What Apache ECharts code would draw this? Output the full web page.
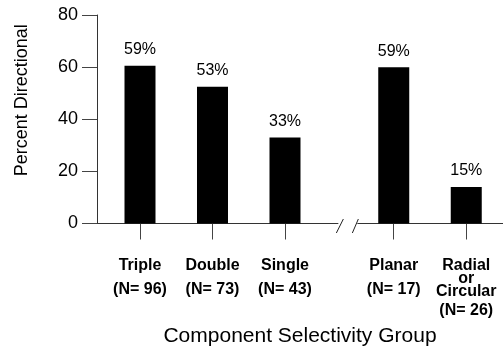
<!DOCTYPE html>
<html>
<head>
<meta charset="utf-8">
<script src="https://cdn.jsdelivr.net/npm/echarts@6/dist/echarts.min.js"></script>
<style>
html,body{margin:0;padding:0;background:#fff;}
#chart{width:503px;height:352px;}
</style>
</head>
<body>
<div id="chart"></div>
<script>
// ---- data ----
const categories = ['Triple', 'Double', 'Single', 'Planar', 'Radial\nor\nCircular'];
const sampleSizes = ['(N= 96)', '(N= 73)', '(N= 43)', '(N= 17)', '(N= 26)'];
const slots = [0, 2, 4, 7, 9];              // category slot index (gap after Single)
const values = [60.5, 52.5, 33, 60, 14];    // bar heights
const valueLabels = ['59%', '53%', '33%', '59%', '15%'];
const yTicks = [0, 20, 40, 60, 80];
const axisBreakAt = 5.72;
const yTitle = 'Percent Directional';
const xTitle = 'Component Selectivity Group';

const FONT = '"Liberation Sans", Arial, Helvetica, sans-serif';
const chart = echarts.init(document.getElementById('chart'), null, {renderer: 'canvas'});

function catLabel(val) {
  const i = slots.indexOf(Math.round(val));
  if (i < 0) return '';
  const lines = categories[i].split('\n').concat([sampleSizes[i]]);
  const styles = lines.length === 2 ? ['l1', 'n2'] : ['l1', 'or', 'ci', 'n4'];
  return lines.map((t, k) => '{' + styles[k] + '|' + t + '}').join('\n');
}

const boldText = {fontFamily: FONT, fontWeight: 'bold', fontSize: 16, color: '#000'};

chart.setOption({
  animation: false,
  backgroundColor: '#fff',
  grid: {left: 97, right: 0, top: 15, bottom: 128.5, containLabel: false},
  xAxis: {
    type: 'value',
    min: -1.1862,
    max: 10.0138,
    name: xTitle,
    nameLocation: 'middle',
    nameGap: 102,
    nameTextStyle: {fontFamily: FONT, fontSize: 21, color: '#000'},
    splitLine: {show: false},
    axisLine: {show: true, onZero: false, lineStyle: {color: '#333', width: 1}},
    axisTick: {show: true, customValues: slots, length: 16, inside: false, lineStyle: {color: '#444', width: 1}},
    axisLabel: {
      show: true,
      customValues: slots,
      margin: 34.5,
      formatter: catLabel,
      rich: {
        l1: Object.assign({lineHeight: 15}, boldText),
        n2: Object.assign({lineHeight: 33}, boldText),
        or: Object.assign({lineHeight: 12}, boldText),
        ci: Object.assign({lineHeight: 14}, boldText),
        n4: Object.assign({lineHeight: 23}, boldText)
      }
    }
  },
  yAxis: {
    type: 'value',
    min: yTicks[0],
    max: yTicks[yTicks.length - 1],
    interval: yTicks[1] - yTicks[0],
    name: yTitle,
    nameLocation: 'middle',
    nameGap: 66,
    nameTextStyle: {fontFamily: FONT, fontSize: 18, color: '#000', padding: [0, 0, 0, 38]},
    splitLine: {show: false},
    axisLine: {show: true, onZero: false, lineStyle: {color: '#333', width: 1}},
    axisTick: {show: true, length: 15, inside: false, lineStyle: {color: '#444', width: 1}},
    axisLabel: {margin: 19, fontFamily: FONT, fontSize: 18, color: '#000'}
  },
  series: [{
    type: 'bar',
    barWidth: 31,
    itemStyle: {color: '#000'},
    data: slots.map((s, i) => [s, values[i]]),
    label: {
      show: true,
      position: 'top',
      distance: 8,
      fontFamily: FONT,
      fontSize: 16,
      color: '#000',
      formatter: p => valueLabels[p.dataIndex]
    }
  }]
});

// axis break marks "//" on the baseline
const bx = chart.convertToPixel({xAxisIndex: 0}, axisBreakAt);
const by = chart.convertToPixel({yAxisIndex: 0}, 0);
chart.setOption({
  graphic: [
    {type: 'rect', z: 100, shape: {x: bx - 9, y: by - 2, width: 19, height: 4}, style: {fill: '#fff'}},
    {type: 'line', z: 101, shape: {x1: bx - 11, y1: by + 9.5, x2: bx - 4, y2: by - 4.5}, style: {stroke: '#222', lineWidth: 1}},
    {type: 'line', z: 101, shape: {x1: bx + 5, y1: by + 9.5, x2: bx + 11, y2: by - 4.5}, style: {stroke: '#222', lineWidth: 1}}
  ]
});
</script>
</body>
</html>
